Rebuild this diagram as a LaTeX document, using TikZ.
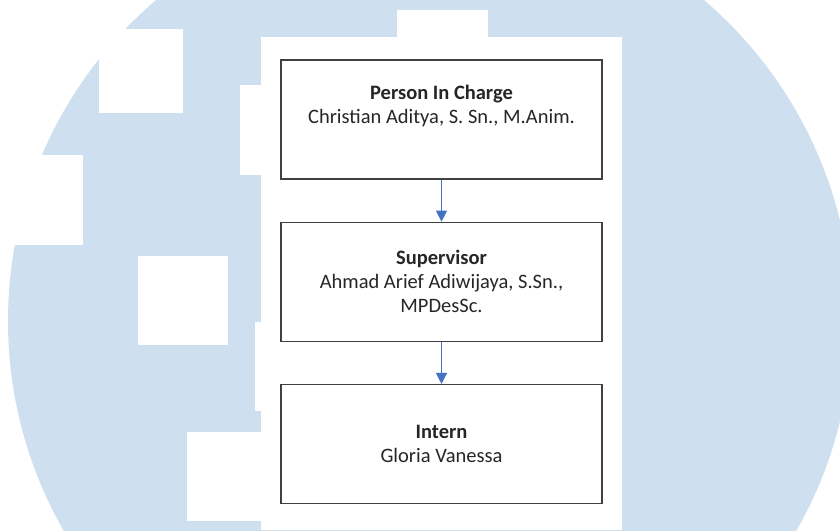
\documentclass[tikz,border=0pt]{standalone}
\usepackage{fontspec}
\setmainfont{Carlito}
\usepackage{tikz}
\usetikzlibrary{arrows.meta, positioning}
\definecolor{logoblue}{RGB}{206, 224, 239}
\definecolor{boxgray}{RGB}{64, 64, 64}
\definecolor{linkblue}{RGB}{68, 114, 196}

\begin{document}
\begin{tikzpicture}[
    x=1pt, y=-1pt,
    node distance=42pt,
    box/.style={draw=boxgray, line width=1.3pt, minimum width=321pt, minimum height=119pt, inner sep=0pt, align=center, text=black!85, font=\fontsize{20.5}{24}\selectfont},
    arrow/.style={-{Triangle[length=11pt, width=11pt]}, linkblue, line width=1.3pt},
    cutout/.style={fill=white}
]
    \useasboundingbox (0,0) rectangle (840,530);
    % watermark
    \fill[white] (0,0) rectangle (840,530);
    \fill[logoblue] (430,321) circle (422);
    \fill[cutout] (99,29) rectangle (183,113);
    \fill[cutout] (0,155) rectangle (83,245);
    \fill[cutout] (240,85) rectangle (262,175);
    \fill[cutout] (397,10) rectangle (488,40);
    \fill[cutout] (138,256) rectangle (228,345);
    \fill[cutout] (255,322) rectangle (262,411);
    \fill[cutout] (187,432) rectangle (262,521);
    \fill[cutout] (261,37) rectangle (622,530);

    \node[box] (pic) at (441.5,119.5) {\textbf{Person In Charge}\\Christian Aditya, S. Sn., M.Anim.\\\strut};
    \node[box, below=of pic] (supervisor) {\textbf{Supervisor}\\Ahmad Arief Adiwijaya, S.Sn.,\\MPDesSc.};
    \node[box, below=of supervisor] (intern) {\textbf{Intern}\\Gloria Vanessa};

    \draw[arrow] (pic) -- (supervisor);
    \draw[arrow] (supervisor) -- (intern);
\end{tikzpicture}
\end{document}
